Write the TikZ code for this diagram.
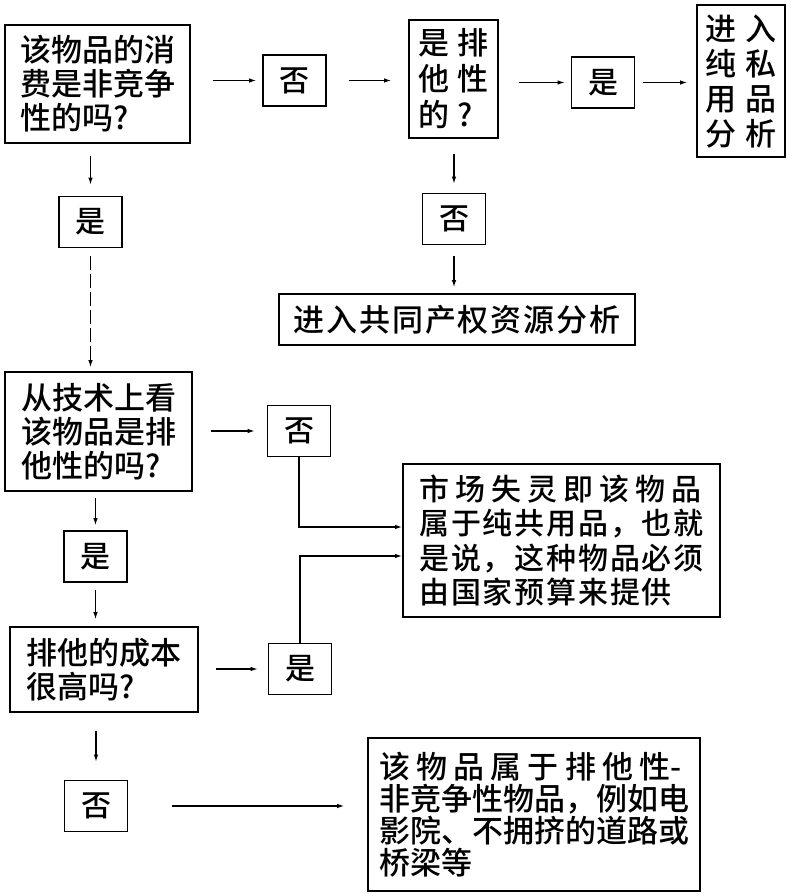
\documentclass[tikz,border=0pt]{standalone}
\usepackage{fontspec}
\setmainfont{Noto Sans CJK SC}[UprightFont={* Medium}]
\newfontfamily\wideCJK{Noto Sans CJK SC}[UprightFont={* Medium},LetterSpace=26]
\newfontfamily\semiCJK{Noto Sans CJK SC}[UprightFont={* Medium},LetterSpace=20]
\newfontfamily\tightCJK{Noto Sans CJK SC}[UprightFont={* Medium},LetterSpace=6]
\usetikzlibrary{arrows.meta}

\tikzset{
  qbox/.style={draw,line width=1.8pt,align=left,inner sep=0pt,font=\fontsize{31}{34}\selectfont},
  ansbox/.style={draw,line width=1.8pt,minimum width=63pt,minimum height=51pt,inner sep=0pt,font=\fontsize{30}{32}\selectfont},
  arr/.style={->,shorten >=6pt},
}

\begin{document}
\begin{tikzpicture}[x=1pt,y=-1pt,line width=1.1pt,>={Latex[length=7pt,width=4.5pt]}]
  \useasboundingbox (0,0) rectangle (790,896);
  % first question row
  \node[qbox,minimum width=185pt,minimum height=118pt] (q1) at (97.5,84) {该物品的消\\费是非竞争\\性的吗?};
  \node[ansbox] (no1) at (294.5,80.5) {否};
  \node[qbox,minimum width=89pt,minimum height=118pt,font=\wideCJK\fontsize{31}{36}\selectfont] (q2) at (453.5,79) {是排\\他性\\的?};
  \node[ansbox] (yes1) at (603,82.5) {是};
  \node[qbox,minimum width=88pt,minimum height=152pt,font=\wideCJK\fontsize{31}{35}\selectfont] (priv) at (741,81) {进入\\纯私\\用品\\分析};
  \node[ansbox] (yes2) at (90.5,222) {是};
  \node[ansbox] (no2) at (454,219) {否};
  \node[qbox,minimum width=356pt,minimum height=51pt,font=\tightCJK\fontsize{31}{34}\selectfont] (common) at (457,319.5) {进入共同产权资源分析};
  % second question
  \node[qbox,minimum width=187pt,minimum height=119pt] (q3) at (98.5,431.5) {从技术上看\\该物品是排\\他性的吗?};
  \node[ansbox] (no3) at (299,431) {否};
  \node[qbox,minimum width=317pt,minimum height=153pt,font=\tightCJK\fontsize{30}{34.5}\selectfont] (mf) at (561.5,540.5) {{\semiCJK 市场失灵即该物品}\\属于纯共用品，也就\\是说，这种物品必须\\由国家预算来提供};
  \node[ansbox] (yes3) at (95.5,556.5) {是};
  % third question
  \node[qbox,minimum width=188pt,minimum height=85pt] (q4) at (104,669.5) {排他的成本\\很高吗?};
  \node[ansbox] (yes4) at (300,669) {是};
  \node[ansbox] (no4) at (96,806) {否};
  \node[qbox,minimum width=332pt,minimum height=153pt,font=\fontsize{31}{32}\selectfont] (excl) at (534,814.5) {{\semiCJK 该物品属于排他性}-\\非竞争性物品，例如电\\影院、不拥挤的道路或\\桥梁等};
  \coordinate (mfa) at (402,527);
  \coordinate (mfb) at (402,556);

  \draw[arr,shorten <=22pt] (q1.east |- no1) -- (no1.west);
  \draw[arr,shorten <=22pt,shorten >=17pt] (no1.east) -- (q2.west |- no1);
  \draw[arr,shorten <=20pt] (q2.east |- yes1) -- (yes1.west);
  \draw[arr,shorten <=8pt,shorten >=9pt] (yes1.east) -- (priv.west |- yes1);
  \draw[arr,shorten <=12pt,shorten >=11pt] (q1.south -| yes2) -- (yes2.north);
  \draw[arr,dash pattern=on 14pt off 4pt,shorten <=8pt,shorten >=4pt] (yes2.south) -- (q3.north -| yes2);
  \draw[arr,shorten <=15pt,shorten >=9pt] (q2.south -| no2) -- (no2.north);
  \draw[arr,shorten <=11pt] (no2.south) -- (common.north -| no2);
  \draw[arr,shorten <=18pt,shorten >=12pt] (q3.east |- no3) -- (no3.west);
  \draw[->] (no3.south) |- (mfa);
  \draw[->] (yes4.north) |- (mfb);
  \draw[arr,shorten <=6pt,shorten >=5pt] (q3.south -| yes3) -- (yes3.north);
  \draw[arr,shorten <=7pt,shorten >=7pt] (yes3.south) -- (q4.north -| yes3);
  \draw[arr,shorten <=17pt,shorten >=10pt] (q4.east |- yes4) -- (yes4.west);
  \draw[arr,shorten <=18pt,shorten >=18pt] (q4.south -| no4) -- (no4.north);
  \draw[arr,shorten <=44pt,shorten >=23pt] (no4.east) -- (excl.west |- no4);
\end{tikzpicture}
\end{document}
